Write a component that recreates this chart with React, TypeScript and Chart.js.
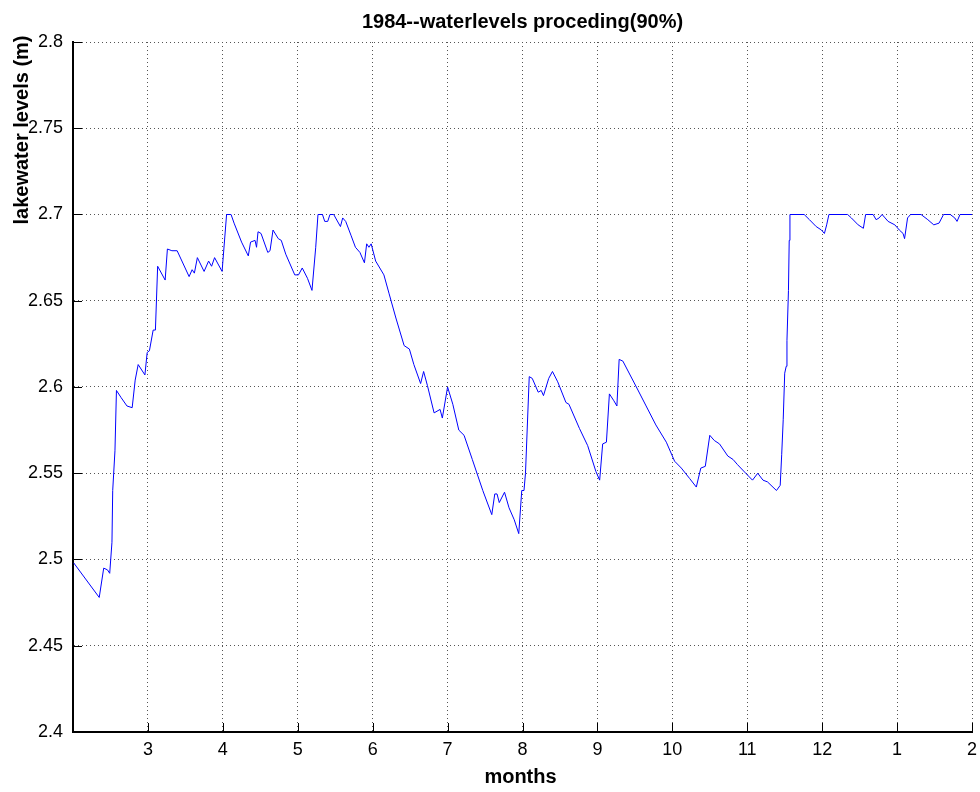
import React, { useEffect, useRef } from 'react';
import { Chart, registerables } from 'chart.js';

Chart.register(...registerables);

const TITLE = '1984--waterlevels proceding(90%)';
const X_LABEL = 'months';
const Y_LABEL = 'lakewater levels (m)';

const X_TICKS = [3, 4, 5, 6, 7, 8, 9, 10, 11, 12, 13, 14];
const X_TICK_LABELS = ['3', '4', '5', '6', '7', '8', '9', '10', '11', '12', '1', '2'];
const Y_TICKS = [2.4, 2.45, 2.5, 2.55, 2.6, 2.65, 2.7, 2.75, 2.8];
const Y_TICK_LABELS = ['2.4', '2.45', '2.5', '2.55', '2.6', '2.65', '2.7', '2.75', '2.8'];

// time axis in months (2 = start of Feb, 14 = Feb of next year)
const MONTHS = [
  2.01, 2.35, 2.41, 2.46, 2.49, 2.52, 2.53, 2.56, 2.58, 2.64,
  2.72, 2.79, 2.83, 2.87, 2.96, 2.99, 3.02, 3.07, 3.10, 3.13,
  3.23, 3.26, 3.32, 3.39, 3.55, 3.59, 3.62, 3.66, 3.75, 3.81,
  3.85, 3.89, 3.99, 4.05, 4.11, 4.15, 4.25, 4.34, 4.37, 4.43,
  4.45, 4.47, 4.51, 4.60, 4.63, 4.67, 4.74, 4.78, 4.84, 4.96,
  5.01, 5.06, 5.13, 5.19, 5.24, 5.27, 5.33, 5.36, 5.40, 5.43,
  5.48, 5.57, 5.60, 5.64, 5.71, 5.77, 5.83, 5.89, 5.92, 5.95,
  5.98, 6.04, 6.15, 6.22, 6.31, 6.42, 6.49, 6.55, 6.64, 6.68,
  6.73, 6.82, 6.90, 6.93, 7.00, 7.07, 7.15, 7.22, 7.33, 7.47,
  7.59, 7.63, 7.66, 7.69, 7.76, 7.82, 7.89, 7.95, 7.99, 8.02,
  8.04, 8.09, 8.13, 8.21, 8.25, 8.28, 8.35, 8.40, 8.47, 8.58,
  8.62, 8.76, 8.87, 8.98, 9.03, 9.07, 9.12, 9.16, 9.22, 9.26,
  9.29, 9.34, 9.52, 9.65, 9.78, 9.92, 10.03, 10.12, 10.23, 10.32,
  10.38, 10.44, 10.50, 10.56, 10.63, 10.74, 10.81, 10.87, 10.98, 11.07,
  11.14, 11.21, 11.27, 11.39, 11.44, 11.46, 11.48, 11.50, 11.52, 11.53,
  11.55, 11.56, 11.57, 11.76, 11.83, 11.92, 11.99, 12.03, 12.06, 12.09,
  12.34, 12.39, 12.48, 12.55, 12.58, 12.68, 12.72, 12.76, 12.80, 12.84,
  12.88, 12.97, 13.03, 13.08, 13.10, 13.14, 13.18, 13.32, 13.41, 13.49,
  13.56, 13.62, 13.71, 13.77, 13.80, 13.84, 14.00,
];

const LEVELS = [
  2.498, 2.478, 2.495, 2.494, 2.492, 2.510, 2.540, 2.563, 2.598, 2.594,
  2.589, 2.588, 2.604, 2.613, 2.607, 2.620, 2.621, 2.633, 2.633, 2.670,
  2.662, 2.680, 2.679, 2.679, 2.664, 2.668, 2.666, 2.675, 2.667, 2.673,
  2.670, 2.675, 2.667, 2.700, 2.700, 2.695, 2.684, 2.676, 2.684, 2.685,
  2.681, 2.690, 2.689, 2.678, 2.679, 2.691, 2.686, 2.685, 2.677, 2.665,
  2.665, 2.669, 2.663, 2.656, 2.681, 2.700, 2.700, 2.696, 2.696, 2.700,
  2.700, 2.693, 2.698, 2.696, 2.688, 2.681, 2.678, 2.672, 2.683, 2.681,
  2.683, 2.673, 2.665, 2.654, 2.640, 2.624, 2.622, 2.613, 2.602, 2.609,
  2.601, 2.585, 2.587, 2.582, 2.600, 2.590, 2.575, 2.572, 2.558, 2.540,
  2.526, 2.538, 2.538, 2.533, 2.539, 2.530, 2.523, 2.515, 2.540, 2.540,
  2.550, 2.606, 2.605, 2.597, 2.598, 2.595, 2.605, 2.609, 2.603, 2.591,
  2.590, 2.576, 2.566, 2.551, 2.546, 2.567, 2.568, 2.596, 2.592, 2.589,
  2.616, 2.615, 2.600, 2.589, 2.578, 2.568, 2.557, 2.553, 2.547, 2.542,
  2.553, 2.554, 2.572, 2.569, 2.567, 2.560, 2.558, 2.555, 2.550, 2.546,
  2.550, 2.546, 2.545, 2.540, 2.543, 2.561, 2.581, 2.608, 2.612, 2.627,
  2.656, 2.685, 2.700, 2.700, 2.697, 2.693, 2.691, 2.689, 2.694, 2.700,
  2.700, 2.698, 2.694, 2.692, 2.700, 2.700, 2.697, 2.698, 2.700, 2.698,
  2.696, 2.694, 2.691, 2.689, 2.686, 2.698, 2.700, 2.700, 2.697, 2.694,
  2.695, 2.700, 2.700, 2.698, 2.696, 2.700, 2.700,
];

const FONT = '"Liberation Sans", Arial, Helvetica, sans-serif';

const decorPlugin = {
  id: 'decor',
  afterDraw(chart: any) {
    const { ctx, chartArea: a, scales } = chart;
    ctx.save();
    // inward tick marks
    ctx.strokeStyle = '#000';
    ctx.lineWidth = 1;
    for (const v of Y_TICKS) {
      const y = Math.round(scales.y.getPixelForValue(v)) + 0.5;
      ctx.beginPath();
      ctx.moveTo(a.left, y);
      ctx.lineTo(a.left + 9, y);
      ctx.stroke();
    }
    for (const v of X_TICKS) {
      const x = Math.round(scales.x.getPixelForValue(v)) + 0.5;
      ctx.beginPath();
      ctx.moveTo(x, a.bottom);
      ctx.lineTo(x, a.bottom - 9);
      ctx.stroke();
    }
    // texts
    ctx.fillStyle = '#000';
    ctx.font = `bold 20px ${FONT}`;
    ctx.textAlign = 'center';
    ctx.textBaseline = 'alphabetic';
    const cx = (a.left + a.right) / 2;
    ctx.fillText(TITLE, cx, 28);
    ctx.fillText(X_LABEL, cx - 2, 783);
    ctx.translate(28, 130);
    ctx.rotate(-Math.PI / 2);
    ctx.fillText(Y_LABEL, 0, 0);
    ctx.restore();
  },
};

export default function App() {
  const ref = useRef<HTMLCanvasElement | null>(null);

  useEffect(() => {
    if (!ref.current) return;
    const data = MONTHS.map((m, i) => ({ x: m, y: LEVELS[i] }));
    const chart = new Chart(ref.current, {
      type: 'line',
      data: {
        datasets: [
          {
            data,
            borderColor: '#0000ff',
            borderWidth: 1,
            pointRadius: 0,
            tension: 0,
            fill: false,
          },
        ],
      },
      options: {
        animation: false,
        responsive: false,
        devicePixelRatio: 1,
        layout: { padding: { top: 42, right: 8, left: 0, bottom: 0 } },
        plugins: { legend: { display: false }, tooltip: { enabled: false }, title: { display: false } },
        scales: {
          x: {
            type: 'linear',
            min: 2,
            max: 14,
            afterBuildTicks: (s: any) => {
              s.ticks = X_TICKS.map((v) => ({ value: v }));
            },
            afterFit: (s: any) => {
              s.height = 60;
              s.paddingLeft = 0;
              s.paddingRight = 0;
            },
            ticks: {
              autoSkip: false,
              maxRotation: 0,
              padding: 7,
              color: '#000',
              font: { family: FONT, size: 18 },
              callback: (_v: any, i: number) => X_TICK_LABELS[i],
            },
            grid: { color: '#555', lineWidth: 1, drawTicks: false },
            border: { display: true, color: '#000', width: 2, dash: [1, 3] },
          },
          y: {
            type: 'linear',
            min: 2.4,
            max: 2.8,
            afterBuildTicks: (s: any) => {
              s.ticks = Y_TICKS.map((v) => ({ value: v }));
            },
            afterFit: (s: any) => {
              s.width = 73;
              s.paddingTop = 0;
              s.paddingBottom = 0;
            },
            ticks: {
              autoSkip: false,
              padding: 10,
              color: '#000',
              font: { family: FONT, size: 18 },
              callback: (_v: any, i: number) => Y_TICK_LABELS[i],
            },
            grid: { color: '#555', lineWidth: 1, drawTicks: false },
            border: { display: true, color: '#000', width: 2, dash: [1, 3] },
          },
        },
      },
      plugins: [decorPlugin],
    });
    return () => chart.destroy();
  }, []);

  return (
    <div style={{ position: 'fixed', left: 0, top: 0, width: 980, height: 792, background: '#fff' }}>
      <canvas ref={ref} width={980} height={792} style={{ display: 'block' }} />
    </div>
  );
}
